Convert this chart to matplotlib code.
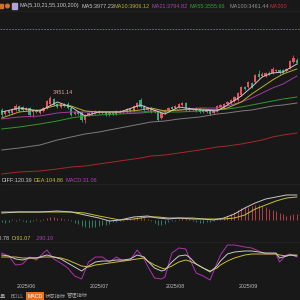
import numpy as np
import matplotlib
matplotlib.use('Agg')
import matplotlib.pyplot as plt
from matplotlib import transforms

BG = '#181818'
UP = '#e8505b'
DOWN = '#3aa67c'

plt.rcParams['font.family'] = ['Liberation Sans', 'Noto Sans CJK SC', 'DejaVu Sans']

# ---- candles (one per trading day, index 0..85) ----
opens = [3311, 3271, 3301, 3281, 3311, 3351, 3341, 3311, 3331, 3291,
         3311, 3281, 3301, 3331, 3371, 3421, 3371, 3341, 3371, 3371,
         3331, 3271, 3291, 3291, 3211, 3261, 3291, 3281, 3301, 3281,
         3291, 3261, 3281, 3271, 3291, 3301, 3291, 3321, 3301, 3341,
         3411, 3351, 3311, 3331, 3291, 3291, 3231, 3281, 3311, 3341,
         3331, 3341, 3361, 3381, 3311, 3311, 3331, 3321, 3311, 3291,
         3311, 3281, 3301, 3341, 3331, 3371, 3381, 3401, 3411, 3461,
         3541, 3541, 3581, 3591, 3671, 3651, 3651, 3681, 3681, 3701,
         3711, 3711, 3701, 3731, 3791, 3811]
closes = [3261, 3301, 3281, 3321, 3351, 3301, 3311, 3331, 3261, 3311,
          3291, 3311, 3331, 3401, 3431, 3361, 3341, 3371, 3351, 3331,
          3261, 3291, 3271, 3211, 3261, 3281, 3271, 3301, 3281, 3291,
          3261, 3281, 3271, 3301, 3301, 3291, 3321, 3301, 3351, 3381,
          3341, 3311, 3331, 3291, 3311, 3211, 3281, 3311, 3331, 3321,
          3351, 3371, 3381, 3311, 3331, 3321, 3301, 3291, 3291, 3311,
          3271, 3311, 3351, 3361, 3371, 3391, 3411, 3441, 3481, 3541,
          3521, 3591, 3541, 3661, 3641, 3671, 3681, 3671, 3721, 3711,
          3681, 3681, 3721, 3801, 3831, 3781]
highs = [3331, 3311, 3311, 3331, 3371, 3361, 3351, 3341, 3341, 3321,
         3321, 3321, 3341, 3411, 3451.14, 3431, 3381, 3381, 3381, 3391,
         3341, 3301, 3301, 3301, 3271, 3291, 3301, 3311, 3311, 3301,
         3301, 3291, 3291, 3311, 3311, 3311, 3331, 3331, 3361, 3391,
         3431, 3361, 3341, 3341, 3321, 3301, 3291, 3321, 3341, 3351,
         3361, 3381, 3391, 3391, 3341, 3331, 3341, 3331, 3321, 3321,
         3321, 3321, 3361, 3371, 3381, 3401, 3421, 3451, 3491, 3551,
         3551, 3601, 3591, 3671, 3711, 3691, 3691, 3701, 3741, 3721,
         3721, 3721, 3731, 3811, 3861, 3831]
lows = [3241, 3261, 3271, 3271, 3301, 3291, 3301, 3301, 3251, 3241,
        3281, 3271, 3291, 3321, 3361, 3351, 3331, 3331, 3341, 3321,
        3251, 3261, 3261, 3191, 3181, 3251, 3261, 3271, 3271, 3271,
        3251, 3251, 3261, 3261, 3281, 3281, 3281, 3291, 3291, 3331,
        3331, 3301, 3301, 3281, 3281, 3201, 3221, 3271, 3301, 3311,
        3321, 3331, 3351, 3301, 3301, 3301, 3291, 3281, 3281, 3281,
        3261, 3271, 3291, 3331, 3321, 3361, 3371, 3391, 3401, 3451,
        3511, 3531, 3531, 3581, 3631, 3641, 3641, 3661, 3671, 3691,
        3671, 3671, 3691, 3721, 3781, 3771]

month_pos = [7, 28, 50, 71]
month_labels = ['2025/06', '2025/07', '2025/08', '2025/09']

# ---- moving averages, read at a few candle positions ----
ma_idx = [0, 5, 11, 16, 20, 24, 28, 34, 40, 43, 47, 51, 57, 62, 65, 69, 72, 75, 78, 81, 85]
ma5 = [3291, 3331, 3301, 3391, 3341, 3251, 3291, 3291, 3361, 3321, 3271,
       3341, 3311, 3301, 3361, 3451, 3541, 3641, 3681, 3691, 3771]
ma10 = [3231, 3291, 3311, 3361, 3351, 3301, 3291, 3291, 3311, 3331, 3301,
        3311, 3321, 3311, 3331, 3391, 3471, 3541, 3611, 3671, 3721]
ma21 = [3221, 3241, 3251, 3281, 3291, 3291, 3291, 3291, 3291, 3301, 3301,
        3311, 3331, 3331, 3351, 3391, 3431, 3481, 3531, 3571, 3651]
ma55 = [3121, 3141, 3171, 3201, 3231, 3251, 3261, 3271, 3281, 3291, 3291,
        3291, 3301, 3311, 3321, 3341, 3361, 3381, 3401, 3421, 3441]
ma100 = [2911, 2931, 2961, 3011, 3041, 3071, 3091, 3131, 3171, 3191, 3201,
         3221, 3241, 3271, 3281, 3301, 3311, 3331, 3351, 3361, 3381]
ma200 = [2671, 2691, 2701, 2721, 2741, 2751, 2771, 2801, 2831, 2851, 2861,
         2881, 2911, 2941, 2951, 2971, 2991, 3011, 3041, 3061, 3081]
alert_price = 4121

# ---- MACD ----
macd_idx = [0, 5, 11, 16, 20, 24, 28, 31, 34, 38, 42, 45, 48, 51, 55, 58, 61,
            64, 67, 70, 73, 76, 79, 82, 85]
diff = [35, 40, 40, 45, 40, 25, 10, -5, 0, 15, 20, 10, 5, 10, 5, 5, 0,
        10, 30, 60, 85, 105, 115, 125, 125]
dea = [40, 40, 40, 40, 40, 35, 20, 10, 0, 5, 15, 15, 10, 10, 10, 5, 5,
       5, 10, 25, 55, 75, 95, 110, 115]
macd_bar = [-10, -15, -10, 5, -5, 5, -5, -10, -10, -5,
            5, -5, 5, 10, 15, 15, 10, 10, 5, 5,
            -5, -15, -20, -30, -35, -40, -35, -35, -30, -25,
            -25, -20, -10, -10, -5, -5, 5, 5, 10, 15,
            15, 10, 5, -5, -15, -25, -25, -20, -10, -5,
            -5, 5, 10, 10, 5, -5, -10, -15, -15, -10,
            -10, -5, 5, 10, 15, 20, 30, 40, 50, 60,
            65, 65, 70, 75, 75, 70, 65, 55, 50, 45,
            35, 30, 20, 25, 30, 30]

# ---- KDJ ----
kdj_idx = [0, 2, 4, 6, 8, 10, 12, 13, 15, 17, 19, 21, 23, 25, 27, 29, 31, 33,
           35, 37, 39, 41, 42, 44, 46, 47, 49, 51, 53, 54, 56, 58, 60, 62, 63,
           65, 67, 70, 72, 74, 76, 79, 80, 82, 83, 85]
k_line = [87.5, 85, 77.5, 75, 80, 80, 85, 87.5, 82.5, 77.5, 67.5, 57.5, 47.5,
          60, 70, 72.5, 72.5, 75, 75, 77.5, 87.5, 82.5, 72.5, 55, 47.5, 50,
          70, 85, 87.5, 82.5, 65, 55, 45, 60, 72.5, 90, 95, 97.5, 97.5, 95,
          92.5, 92.5, 80, 85, 87.5, 85]
d_line = [82.5, 82.5, 82.5, 80, 80, 80, 82.5, 82.5, 82.5, 80, 75, 67.5, 60,
          57.5, 62.5, 65, 67.5, 70, 72.5, 75, 77.5, 80, 72.5, 62.5, 55, 52.5,
          60, 70, 75, 72.5, 65, 55, 47.5, 55, 62.5, 72.5, 80, 87.5, 90, 90,
          90, 90, 87.5, 85, 87.5, 87.5]
j_line = [92.5, 85, 62.5, 65, 82.5, 75, 92.5, 100, 77.5, 67.5, 55, 35, 27.5,
          70, 82.5, 82.5, 70, 82.5, 72.5, 75, 100, 77.5, 60, 30, 27.5, 32.5,
          92.5, 105, 102.5, 80, 42.5, 35, 25, 67.5, 87.5, 112.5, 112.5, 107.5,
          105, 97.5, 90, 90, 70, 87.5, 90, 82.5]

XLIM = (-0.5, 85.9)


def px(x, y):
    """pixel position (from top-left) -> figure fraction"""
    return x / 300, 1 - y / 300


def panel(fig, top, bottom):
    ax = fig.add_axes([0, 1 - bottom / 300, 1, (bottom - top) / 300])
    ax.set_facecolor(BG)
    for s in ax.spines.values():
        s.set_visible(False)
    ax.set_xticks([])
    ax.set_yticks([])
    ax.set_xlim(*XLIM)
    return ax


def draw_candles(ax):
    idx = np.arange(len(opens))
    o = np.array(opens)
    c = np.array(closes)
    colors = [UP if cc >= oo else DOWN for oo, cc in zip(o, c)]
    ax.vlines(idx, lows, highs, colors=colors, linewidth=0.6)
    ax.bar(idx, np.maximum(np.abs(c - o), 4), bottom=np.minimum(o, c),
           width=0.66, color=colors, linewidth=0)

    ax.plot(ma_idx, ma200, color='#a82828', lw=0.7)
    ax.plot(ma_idx, ma100, color='#7c7c7c', lw=0.7)
    ax.plot(ma_idx, ma55, color='#2e9a2e', lw=0.7)
    ax.plot(ma_idx, ma21, color='#a03aa0', lw=0.7)
    ax.plot(ma_idx, ma10, color='#b8b030', lw=0.7)
    ax.plot(ma_idx, ma5, color='#c8c8c8', lw=0.7)

    ax.axhline(alert_price, color='#c8641e', lw=0.6, ls=(0, (2, 1.5)))

    top = int(np.argmax(highs[:30]))
    ax.text(top + 0.8, highs[top] + 12, f'{highs[top]:.2f}', color='#e0a0a8',
            fontsize=4, ha='left', va='bottom')
    ax.set_ylim(2651, 4291)


def draw_macd(ax):
    idx = np.arange(len(macd_bar))
    colors = [UP if v > 0 else DOWN for v in macd_bar]
    ax.vlines(idx, 0, macd_bar, colors=colors, linewidth=0.6, alpha=0.85)
    ax.plot(macd_idx, dea, color='#c8c030', lw=0.7)
    ax.plot(macd_idx, diff, color='#c8c8c8', lw=0.7)
    ax.set_ylim(-40, 180)


def draw_kdj(ax):
    ax.plot(kdj_idx, j_line, color='#b030b0', lw=0.7)
    ax.plot(kdj_idx, d_line, color='#c8c030', lw=0.7)
    ax.plot(kdj_idx, k_line, color='#c8c8c8', lw=0.7)
    ax.set_ylim(17.5, 117.5)


def headers(fig):
    fs = 4
    y = 6
    fig.patches.append(plt.Rectangle(px(-1, 8), 4 / 300, 4 / 300, transform=fig.transFigure,
                                     color='#d0702a'))
    fig.patches.append(plt.Circle(px(7.5, 6), 1.8 / 300, transform=fig.transFigure,
                                  color='#d0702a'))
    fig.patches.append(plt.Rectangle(px(12, 9), 5 / 300, 6 / 300, transform=fig.transFigure,
                                     color='#b0a0d8'))
    items = [(19, 'MA(5,10,21,55,100,200)', '#c8c8c8'),
             (81, 'MA5:3977.23', '#c8c8c8'),
             (113, 'MA10:3906.12', '#b8b030'),
             (152, 'MA21:3794.82', '#b040b0'),
             (190, 'MA55:3555.66', '#30a030'),
             (229, 'MA100:3461.44', '#909090'),
             (270, 'MA200', '#c03030')]
    for x, t, col in items:
        fig.text(*px(x, y), t, color=col, fontsize=fs, va='center', ha='left')

    for x, t, col in [(2, 'DIFF:120.39', '#c8c8c8'), (33, 'DEA:104.86', '#c8c030'),
                      (65, 'MACD:31.06', '#b040b0')]:
        fig.text(*px(x, 180), t, color=col, fontsize=fs, va='center', ha='left')

    for x, t, col in [(10, 'K:90.78', '#c8c8c8'), (12, 'D:91.07', '#c8c030'),
                      (36, 'J:90.19', '#b040b0')]:
        ha = 'right' if t.startswith('K') else 'left'
        fig.text(*px(x, 239), t, color=col, fontsize=fs, va='center', ha=ha)

    # indicator tabs
    tabs = [(2, '量'), (17, 'BOLL'), (35, 'MACD'), (55, '状态指标'), (77, '管理指标')]
    for x, t in tabs:
        if t == 'MACD':
            fig.text(*px(x, 296), t, color='white', fontsize=3.8, ha='center', va='center',
                     bbox=dict(boxstyle='square,pad=0.35', facecolor='#e8701e', edgecolor='none'))
        else:
            fig.text(*px(x, 296), t, color='#a0a0a0', fontsize=3.8, ha='center', va='center')


def main():
    fig = plt.figure(figsize=(3, 3), dpi=100, facecolor=BG)

    ax_main = panel(fig, 12, 176)
    ax_macd = panel(fig, 184, 228)
    ax_kdj = panel(fig, 243, 283)

    draw_candles(ax_main)
    draw_macd(ax_macd)
    draw_kdj(ax_kdj)

    # month labels under the KDJ panel
    trans = transforms.blended_transform_factory(ax_kdj.transData, fig.transFigure)
    for pos, lab in zip(month_pos, month_labels):
        ax_kdj.text(pos, 1 - 287 / 300, lab, transform=trans, color='#c0c0c0',
                    fontsize=3.8, ha='center', va='center', clip_on=False)

    # faint separators
    for yy in (11, 184, 242):
        fig.add_artist(plt.Line2D([0, 1], [1 - yy / 300] * 2, color='#262626', lw=0.5))

    headers(fig)
    fig.savefig('out.png', dpi=100, facecolor=BG)


if __name__ == '__main__':
    main()
